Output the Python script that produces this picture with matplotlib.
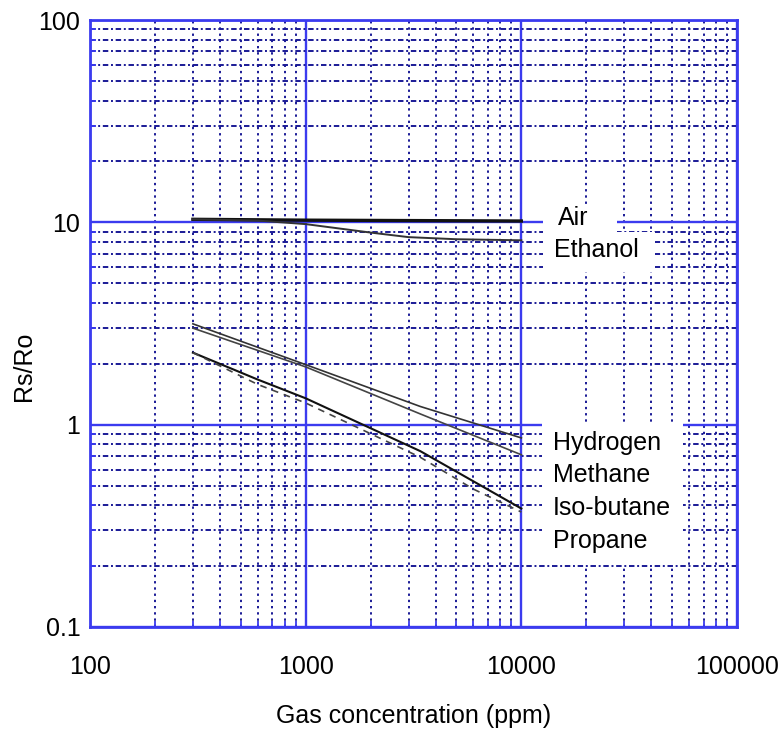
import matplotlib
matplotlib.use('Agg')
import matplotlib.pyplot as plt
from matplotlib.patches import Rectangle
from matplotlib.ticker import FixedLocator, FixedFormatter, NullFormatter

plt.rcParams['font.family'] = ['Liberation Sans', 'DejaVu Sans']

# gas concentration (ppm) and Rs/Ro
air_ppm = [300, 1000, 10000]
air_ratio = [10.35, 10.25, 10.15]

ethanol_ppm = [300, 600, 1000, 2000, 3000, 5000, 10000]
ethanol_ratio = [10.35, 10.2, 9.8, 8.9, 8.45, 8.25, 8.15]

hydrogen_ppm = [300, 1000, 3400, 10000]
hydrogen_ratio = [3.15, 1.98, 1.23, 0.86]

methane_ppm = [300, 1000, 3400, 10000]
methane_ratio = [3.0, 1.93, 1.13, 0.71]

isobutane_ppm = [300, 600, 1000, 3400, 10000]
isobutane_ratio = [2.27, 1.67, 1.35, 0.74, 0.385]

propane_ppm = [300, 600, 1000, 3400, 6000, 10000]
propane_ratio = [2.27, 1.58, 1.28, 0.69, 0.48, 0.37]

x_ticks = [100, 1000, 10000, 100000]
x_labels = ['100', '1000', '10000', '100000']
y_ticks = [0.1, 1, 10, 100]
y_labels = ['0.1', '1', '10', '100']

blue = '#3b3bef'
navy = '#1a1a96'
fs = 18

fig = plt.figure(figsize=(7.82, 7.31), dpi=100)
ax = fig.add_axes([90/782, 104/731, 647/782, 607/731])
ax.set_xscale('log')
ax.set_yscale('log')
ax.set_xlim(100, 100000)
ax.set_ylim(0.1, 100)

# grid: solid at decades, dotted in between
ax.xaxis.set_major_locator(FixedLocator(x_ticks))
ax.xaxis.set_major_formatter(FixedFormatter(x_labels))
ax.yaxis.set_major_locator(FixedLocator(y_ticks))
ax.yaxis.set_major_formatter(FixedFormatter(y_labels))
minors = [m * 10**e for e in range(-1, 5) for m in range(2, 10)]
ax.xaxis.set_minor_locator(FixedLocator([v for v in minors if 100 < v < 100000]))
ax.yaxis.set_minor_locator(FixedLocator([v for v in minors if 0.1 < v < 100]))
ax.xaxis.set_minor_formatter(NullFormatter())
ax.yaxis.set_minor_formatter(NullFormatter())

ax.grid(True, which='major', color=blue, lw=1.7, ls='-', zorder=0)
ax.grid(True, which='minor', axis='x', color=navy, lw=1.4, ls=(0, (1.2, 2.0)))
ax.grid(True, which='minor', axis='y', color=navy, lw=1.4, ls=(0, (2.8, 1.4, 1, 1.4)))
ax.set_axisbelow(True)

ax.tick_params(which='major', length=0, labelsize=fs, pad=7)
ax.tick_params(axis='x', which='major', pad=20)
ax.tick_params(which='minor', direction='in', length=4, width=1.3, color=blue)
for s in ax.spines.values():
    s.set_color(blue)
    s.set_linewidth(2)

ax.plot(air_ppm, air_ratio, color='#111111', lw=2.4, zorder=3)
ax.plot(ethanol_ppm, ethanol_ratio, color='#333333', lw=1.4, zorder=3)
ax.plot(hydrogen_ppm, hydrogen_ratio, color='#333333', lw=1.2, zorder=3)
ax.plot(methane_ppm, methane_ratio, color='#444444', lw=1.2, zorder=3)
ax.plot(isobutane_ppm, isobutane_ratio, color='#111111', lw=1.5, zorder=3)
ax.plot(propane_ppm, propane_ratio, color='#444444', lw=1.2, ls=(0, (4, 3.5)), zorder=3)

# white patches behind the curve names
for (x0, y0, w, h) in [(0.700, 0.6507, 0.1145, 0.0445),
                       (0.700, 0.5848, 0.173, 0.0659),
                       (0.6986, 0.1021, 0.218, 0.2356)]:
    ax.add_patch(Rectangle((x0, y0), w, h, transform=ax.transAxes,
                           facecolor='white', edgecolor='none', zorder=2))

names = ['Air', 'Ethanol', 'Hydrogen', 'Methane', 'Iso-butane', 'Propane']
name_x = [14800, 14200, 14000, 14000, 14000, 14000]
name_y = [10.46, 7.26, 0.815, 0.566, 0.389, 0.267]
for n, xx, yy in zip(names, name_x, name_y):
    ax.text(xx, yy, n, fontsize=fs, va='center', ha='left', zorder=4)

ax.set_xlabel('Gas concentration (ppm)', fontsize=fs, labelpad=18)
ax.set_ylabel('Rs/Ro', fontsize=fs)
ax.yaxis.set_label_coords(-0.083, 0.43)

fig.savefig('out.png', dpi=100)
